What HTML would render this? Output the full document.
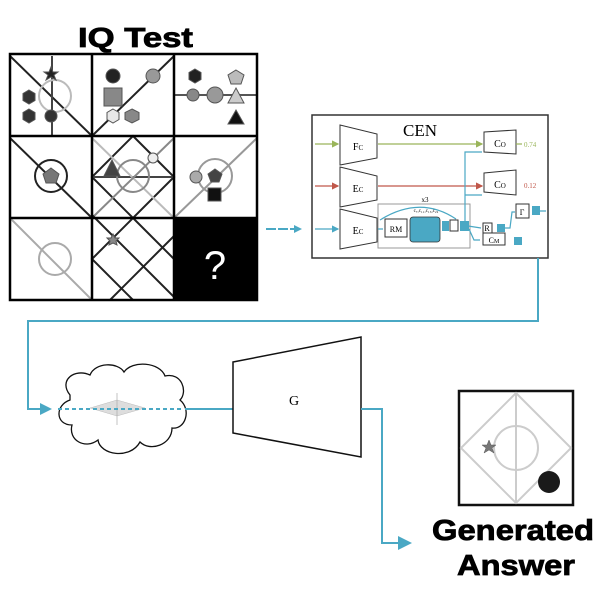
<!DOCTYPE html>
<html><head><meta charset="utf-8"><style>body{margin:0;background:#fff}svg{display:block}</style></head><body>
<svg width="600" height="600" viewBox="0 0 600 600" xmlns="http://www.w3.org/2000/svg" font-family="Liberation Serif, serif">
<defs>
<marker id="ar" markerWidth="6" markerHeight="6" refX="5" refY="3" orient="auto"><path d="M0,0L6,3L0,6z" fill="#4aa8c4"/></marker>
<marker id="ag" markerWidth="6" markerHeight="6" refX="5" refY="3" orient="auto"><path d="M0,0L6,3L0,6z" fill="#9ab55a"/></marker>
<marker id="arr" markerWidth="6" markerHeight="6" refX="5" refY="3" orient="auto"><path d="M0,0L6,3L0,6z" fill="#c0574a"/></marker>
<marker id="big" markerWidth="4" markerHeight="4" refX="3" refY="2" orient="auto" markerUnits="strokeWidth"><path d="M0,0L4,2L0,4z" fill="#4aa8c4"/></marker>
<clipPath id="c1"><rect x="10" y="54" width="247" height="246"/></clipPath>
</defs>
<text x="78" y="47" textLength="115" lengthAdjust="spacingAndGlyphs" font-family="Liberation Sans, sans-serif" font-weight="bold" font-size="28" stroke="#000" stroke-width="0.8">IQ Test</text>
<g clip-path="url(#c1)" stroke-width="2" fill="none">
<line x1="10" y1="56" x2="92" y2="136" stroke="#222"/>
<line x1="52" y1="56" x2="52" y2="136" stroke="#444"/>
<circle cx="55" cy="96" r="16" stroke="#bbb"/>
<line x1="92" y1="136" x2="174" y2="56" stroke="#222"/>
<line x1="174" y1="95" x2="257" y2="95" stroke="#555"/>
<line x1="10" y1="138" x2="92" y2="218" stroke="#222"/>
<circle cx="51" cy="176" r="16" stroke="#222"/>
<path d="M133,136 L174,177 L133,218 L92,177Z" stroke="#222"/>
<line x1="92" y1="177" x2="174" y2="177" stroke="#444"/>
<line x1="92" y1="138" x2="174" y2="218" stroke="#bbb"/>
<line x1="92" y1="218" x2="174" y2="138" stroke="#888"/>
<circle cx="133" cy="176" r="16" stroke="#888"/>
<line x1="174" y1="218" x2="257" y2="138" stroke="#999"/>
<circle cx="215" cy="176" r="17" stroke="#999"/>
<line x1="10" y1="218" x2="92" y2="300" stroke="#aaa"/>
<circle cx="55" cy="259" r="16" stroke="#aaa"/>
<path d="M133,218 L92,259 L133,300 M133,218 L174,259 M92,215 L177,300 M110,300 L176,234" stroke="#222"/>
</g>
<g stroke="#555" stroke-width="1">
<path d="M29,90 l6,3.5 0,7 -6,3.5 -6,-3.5 0,-7z" fill="#333"/><path d="M29,109 l6,3.5 0,7 -6,3.5 -6,-3.5 0,-7z" fill="#333"/><circle cx="51" cy="116" r="6" fill="#333"/>
<circle cx="113" cy="76" r="7" fill="#222"/><rect x="104" y="88" width="18" height="18" fill="#888"/>
<path d="M113,109 l6,3.5 0,7 -6,3.5 -6,-3.5 0,-7z" fill="#e8e8e8"/><path d="M132,109 l7,3.5 0,7 -7,3.5 -7,-3.5 0,-7z" fill="#888"/><circle cx="153" cy="76" r="7" fill="#999"/>
<path d="M195,69 l6,3.5 0,7 -6,3.5 -6,-3.5 0,-7z" fill="#222"/><circle cx="193" cy="95" r="6" fill="#888"/><circle cx="215" cy="95" r="8" fill="#999"/>
<path d="M236,70 L244,75 L241,84 L231,84 L228,75Z" fill="#bbb"/>
<path d="M236,88 L244,103 L228,103Z" fill="#ccc"/><path d="M236,110 L244,124 L228,124Z" fill="#111"/>
<path d="M51,168 L59,174 L56,183 L46,183 L43,174Z" fill="#777"/>
<path d="M112,160 L120,176 L104,176Z" fill="#444"/><circle cx="153" cy="158" r="5" fill="#eee"/>
<circle cx="196" cy="177" r="6" fill="#aaa"/><path d="M215,169 L222,174 L219,182 L211,182 L208,174Z" fill="#444"/>
<rect x="208" y="188" width="13" height="13" fill="#111"/>
<path d="M113,234 l2,4 4,0 -3,3 1,4 -4,-2 -4,2 1,-4 -3,-3 4,0z" fill="#888"/>
<path d="M51,67 l2,5 5,0 -4,3 2,5 -5,-3 -5,3 2,-5 -4,-3 5,0z" fill="#222"/>
</g>
<rect x="174" y="218" width="83" height="82" fill="#000"/>
<text x="215" y="279" text-anchor="middle" fill="#fff" font-family="Liberation Sans, sans-serif" font-size="40">?</text>
<g stroke="#000" stroke-width="2.5" fill="none">
<rect x="10" y="54" width="247" height="246"/>
<line x1="92" y1="54" x2="92" y2="300"/><line x1="174" y1="54" x2="174" y2="300"/>
<line x1="10" y1="136" x2="257" y2="136"/><line x1="10" y1="218" x2="257" y2="218"/>
</g>
<line x1="266" y1="229" x2="300" y2="229" stroke="#4aa8c4" stroke-width="2" stroke-dasharray="10 2" marker-end="url(#big)"/>
<rect x="312" y="115" width="236" height="143" fill="#fff" stroke="#333" stroke-width="1.5"/>
<text x="420" y="136" text-anchor="middle" font-size="17">CEN</text>
<g fill="#fff" stroke="#333" stroke-width="1">
<path d="M340,125 L377,134 L377,158 L340,165Z"/>
<path d="M340,167 L377,176 L377,200 L340,207Z"/>
<path d="M340,209 L377,218 L377,242 L340,249Z"/>
<path d="M484,132 L516,130 L516,154 L484,152Z"/>
<path d="M484,173 L516,170 L516,195 L484,192Z"/>
<rect x="378" y="204" width="92" height="44" stroke="#999"/>
<rect x="385" y="219" width="22" height="18"/>
<rect x="483" y="223" width="9" height="10"/>
<rect x="483" y="233" width="22" height="12"/>
<rect x="516" y="204" width="13" height="14"/>
<rect x="450" y="220" width="8" height="11"/>
</g>
<g font-size="10" text-anchor="middle">
<text x="358" y="150">F<tspan font-size="7">C</tspan></text>
<text x="358" y="192">E<tspan font-size="7">C</tspan></text>
<text x="358" y="234">E<tspan font-size="7">C</tspan></text>
<text x="500" y="147">C<tspan font-size="7">O</tspan></text>
<text x="500" y="188">C<tspan font-size="7">O</tspan></text>
<text x="396" y="232" font-size="8">RM</text>
<text x="425" y="202" font-size="7">x3</text>
<text x="426" y="212" font-size="5">c₇,c₁₁,c₁₅,c₂₂</text>
<text x="494" y="243" font-size="8">C<tspan font-size="6">M</tspan></text>
<text x="522" y="215" font-size="8">Γ</text>
<text x="487" y="231" font-size="8">R</text>
</g>
<rect x="410" y="217" width="30" height="25" rx="3" fill="#4aa8c4" stroke="#333" stroke-width="0.8"/>
<g fill="#4aa8c4"><rect x="442" y="221" width="7" height="10"/><rect x="460" y="221" width="9" height="10"/><rect x="497" y="224" width="8" height="8"/><rect x="514" y="237" width="8" height="8"/><rect x="532" y="206" width="8" height="9"/></g>
<text x="524" y="147" font-size="7" fill="#9ab55a">0.74</text>
<text x="524" y="188" font-size="7" fill="#c0574a">0.12</text>
<g fill="none" stroke-width="1.2">
<line x1="315" y1="144" x2="338" y2="144" stroke="#9ab55a" marker-end="url(#ag)"/>
<line x1="378" y1="144" x2="482" y2="144" stroke="#9ab55a" marker-end="url(#ag)"/>
<line x1="516" y1="144" x2="522" y2="144" stroke="#9ab55a"/>
<line x1="315" y1="186" x2="338" y2="186" stroke="#c0574a" marker-end="url(#arr)"/>
<line x1="378" y1="186" x2="482" y2="186" stroke="#c0574a" marker-end="url(#arr)"/>
<line x1="315" y1="229" x2="338" y2="229" stroke="#4aa8c4" marker-end="url(#ar)"/>
<path d="M378,229 L383,229 M465,226 L465,152 L482,152 M465,195 L482,195 M468,226 L481,228 M469,229 L474,240 L480,240 M505,228 L510,228 L512,212 L515,212 M540,211 L546,211" stroke="#4aa8c4"/>
<path d="M380,220 Q420,195 456,219" stroke="#4aa8c4"/>
</g>
<path d="M538,258 L538,321 L28,321 L28,409 L48,409" fill="none" stroke="#4aa8c4" stroke-width="2"/>
<path d="M40,403 L52,409 L40,415Z" fill="#4aa8c4"/>
<path d="M70,395 C58,380 75,368 90,375 C95,362 118,362 124,372 C132,360 160,362 165,376 C182,372 188,392 180,400 C192,410 185,430 172,428 C172,445 150,452 140,442 C130,460 100,455 98,440 C85,450 68,440 72,425 C55,425 55,405 70,400Z" fill="#fff" stroke="#111" stroke-width="1.3"/>
<path d="M90,408 L117,400 L145,408 L117,416Z" fill="#ddd" stroke="#bbb" stroke-width="0.5"/>
<line x1="117" y1="393" x2="117" y2="425" stroke="#aaa" stroke-width="0.7"/>
<line x1="58" y1="409" x2="182" y2="409" stroke="#4aa8c4" stroke-width="2" stroke-dasharray="4 3"/>
<line x1="185" y1="409" x2="233" y2="409" stroke="#4aa8c4" stroke-width="2"/>
<path d="M233,362 L361,337 L361,457 L233,433Z" fill="#fff" stroke="#111" stroke-width="1.5"/>
<text x="294" y="405" text-anchor="middle" font-size="14">G</text>
<path d="M361,409 L382,409 L382,543 L400,543" fill="none" stroke="#4aa8c4" stroke-width="2"/>
<path d="M398,536 L412,543 L398,550Z" fill="#4aa8c4"/>
<rect x="459" y="391" width="114" height="114" fill="#fff" stroke="#111" stroke-width="2.5"/>
<g stroke="#ccc" stroke-width="2" fill="none">
<path d="M516,393 L571,448 L516,503 L461,448Z"/><line x1="516" y1="393" x2="516" y2="503"/><circle cx="516" cy="448" r="22"/>
</g>
<path d="M489,440 l2,5 5,0 -4,3 2,5 -5,-3 -5,3 2,-5 -4,-3 5,0z" fill="#777" stroke="#555" stroke-width="0.5"/>
<circle cx="549" cy="482" r="11" fill="#1a1a1a"/>
<g font-family="Liberation Sans, sans-serif" font-weight="bold" font-size="29" stroke="#000" stroke-width="0.8">
<text x="432" y="540" textLength="162" lengthAdjust="spacingAndGlyphs">Generated</text>
<text x="457" y="575" textLength="118" lengthAdjust="spacingAndGlyphs">Answer</text>
</g>
</svg>
</body></html>
